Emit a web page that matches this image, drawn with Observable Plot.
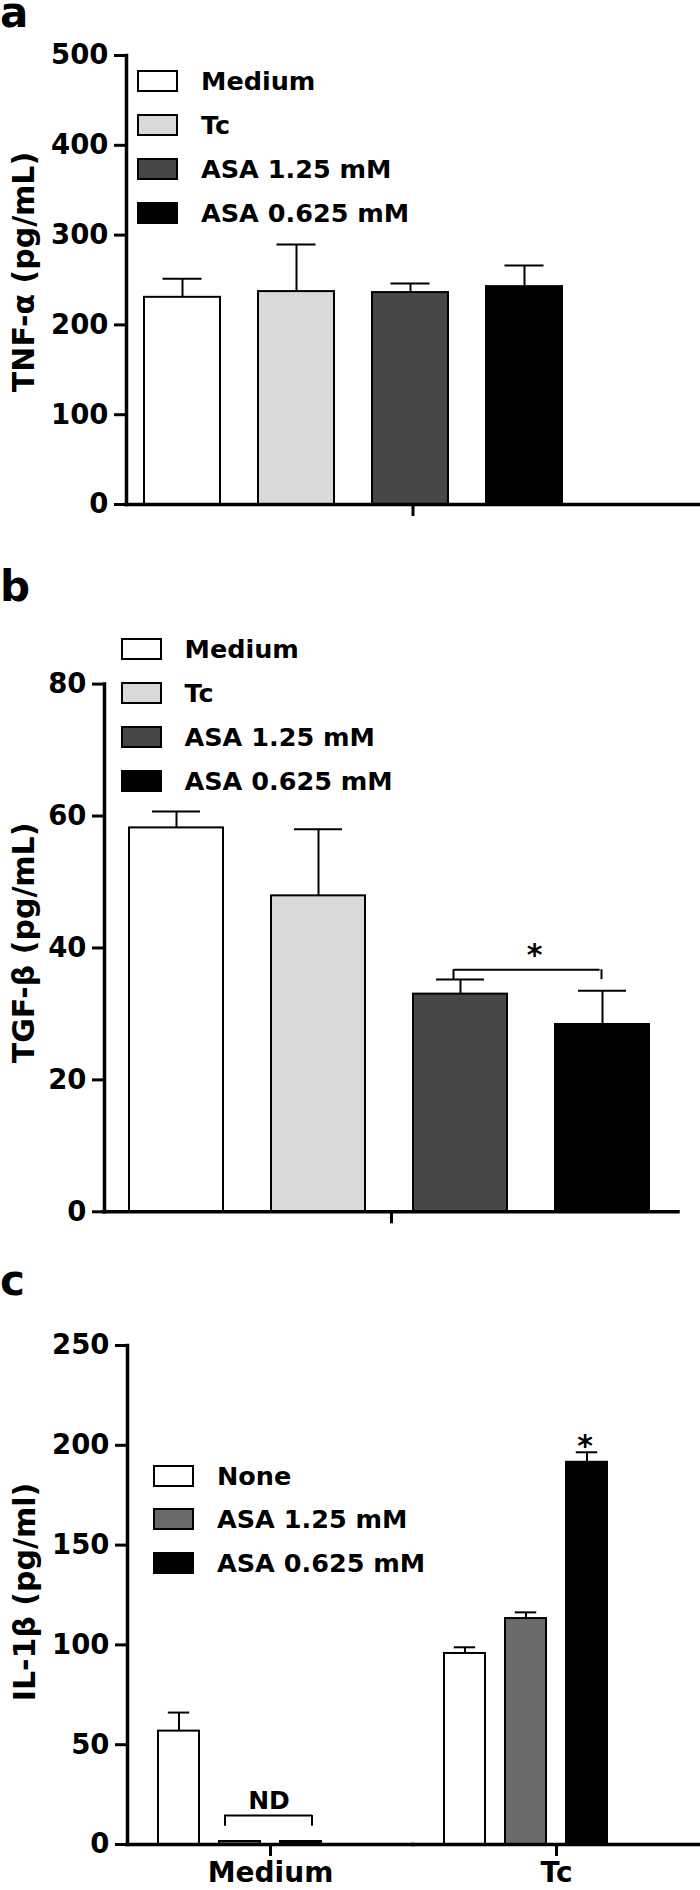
<!DOCTYPE html>
<html>
<head>
<meta charset="utf-8">
<script src="https://cdn.jsdelivr.net/npm/d3@7"></script>
<script src="https://cdn.jsdelivr.net/npm/@observablehq/plot@0.6"></script>
<style>
html, body { margin: 0; padding: 0; background: #fff; }
#root { position: relative; width: 700px; height: 1890px; overflow: hidden;
  font-family: "DejaVu Sans", sans-serif; font-weight: bold; color: #000; }
.panel { position: absolute; left: 0; }
.panel svg { overflow: visible; }
.letter { position: absolute; left: 0; font-size: 42px; line-height: 24px; }
.item { position: absolute; display: flex; align-items: center; white-space: nowrap;
  font-size: 25.5px; line-height: 22px; }
.sw { box-sizing: border-box; width: 41px; height: 22px; border: 2px solid #000; }
</style>
</head>
<body>
<div id="root"></div>
<script>
// ---------- data ----------
const seriesAB = ["Medium", "Tc", "ASA 1.25 mM", "ASA 0.625 mM"];
const colorsAB = ["#ffffff", "#d9d9d9", "#474747", "#000000"];

const tnfMean = [230.7, 237.1, 236.0, 242.6];
const tnfErr  = [20.6, 52.3, 10.0, 23.5];
const tnfTicks = [0, 100, 200, 300, 400, 500];
const tnfTitle = "TNF-α (pg/mL)";

const tgfMean = [58.2, 47.9, 33.0, 28.4];
const tgfErr  = [2.5, 10.1, 2.2, 5.1];
const tgfTicks = [0, 20, 40, 60, 80];
const tgfTitle = "TGF-β (pg/mL)";
const tgfSig = [{group: "", from: "ASA 1.25 mM", to: "ASA 0.625 mM", bracket: 36.7, leg: 35.2, textY: 37.4, text: "*"}];

const groupsC = ["Medium", "Tc"];
const seriesC = ["None", "ASA 1.25 mM", "ASA 0.625 mM"];
const colorsC = ["#ffffff", "#6b6b6b", "#000000"];
const il1bMedium    = [56.8, 1.5, 1.5];
const il1bMediumErr = [9.3, 0, 0];
const il1bTc        = [95.7, 113.2, 191.5];
const il1bTcErr     = [3.1, 3.1, 5.0];
const il1bTicks = [0, 50, 100, 150, 200, 250];
const il1bTitle = "IL-1β (pg/ml)";
const il1bND   = [{group: "Medium", from: "ASA 1.25 mM", to: "ASA 0.625 mM", bracket: 14.5, leg: 9.1, textY: 17.9, text: "ND"}];
const il1bStar = [{group: "Tc", series: "ASA 0.625 mM", textY: 194.6, text: "*"}];

// ---------- tables ----------
const rowsA = seriesAB.map((s, i) => ({group: "", series: s, value: tnfMean[i], err: tnfErr[i]}));
const rowsB = seriesAB.map((s, i) => ({group: "", series: s, value: tgfMean[i], err: tgfErr[i]}));
const rowsC = [
  ...seriesC.map((s, i) => ({group: groupsC[0], series: s, value: il1bMedium[i], err: il1bMediumErr[i]})),
  ...seriesC.map((s, i) => ({group: groupsC[1], series: s, value: il1bTc[i], err: il1bTcErr[i]}))
];

const root = document.getElementById("root");

function panel(o) {
  const errRows = o.rows.filter(d => d.err > 0);
  return Plot.plot({
    width: 700, height: o.height,
    marginTop: o.mt, marginBottom: o.mb, marginLeft: o.ml, marginRight: o.mr,
    style: {fontFamily: '"DejaVu Sans", sans-serif', fontWeight: "bold", color: "#000", background: "none", overflow: "visible"},
    fx: {domain: o.groups, padding: 0},
    x: {domain: o.series, paddingInner: o.pi, paddingOuter: o.po, align: o.align, axis: null},
    y: {domain: [o.ticks[0], o.ticks[o.ticks.length - 1]]},
    color: {domain: o.series, range: o.colors},
    marks: [
      Plot.barY(o.rows, {fx: "group", x: "series", y: "value", fill: "series", stroke: "#000", strokeWidth: 2}),
      Plot.ruleX(errRows, {fx: "group", x: "series", y1: "value", y2: d => d.value + d.err, stroke: "#000", strokeWidth: 2}),
      Plot.tickY(errRows, {fx: "group", x: "series", y: d => d.value + d.err, stroke: "#000", strokeWidth: 2, insetLeft: o.cap, insetRight: o.cap}),
      ...(o.extra || []),
      Plot.ruleY([0], {stroke: "#000", strokeWidth: 3.5, strokeLinecap: "square"}),
      Plot.frame({anchor: "left", facetAnchor: "left", stroke: "#000", strokeWidth: 3.5, strokeLinecap: "square"}),
      Plot.axisY({ticks: o.ticks, tickSize: 12, tickPadding: 6, fontSize: 27.5, strokeWidth: 3, label: null}),
      Plot.text([o.title], {text: d => d, frameAnchor: "left", facetAnchor: "left", rotate: -90,
        lineAnchor: "middle", textAnchor: "middle", fontSize: 30, dx: 24 - o.ml, dy: o.titleDy}),
      Plot.axisFx({anchor: "bottom", tickSize: 12, tickPadding: 6, fontSize: 28, strokeWidth: 3, label: null})
    ]
  });
}

function place(node, top) {
  const d = document.createElement("div");
  d.className = "panel";
  d.style.top = top + "px";
  d.appendChild(node);
  root.appendChild(d);
}

function legend(left, top, step, series, colors) {
  series.forEach((s, i) => {
    const item = d3.select(root).append("div").attr("class", "item")
      .style("left", left + "px").style("top", (top + i * step) + "px");
    item.append("div").attr("class", "sw").style("background", colors[i]);
    item.append("span").style("margin-left", "23px").text(s);
  });
}

function letter(t, top) {
  d3.select(root).append("div").attr("class", "letter").style("top", top + "px").text(t);
}

// ---------- panel a ----------
place(panel({
  height: 560, mt: 55, mb: 56, ml: 126, mr: 1,
  rows: rowsA, groups: [""], series: seriesAB, colors: colorsAB, ticks: tnfTicks, title: tnfTitle, titleDy: -8,
  pi: 0.333, po: 0.665, align: 0.118, cap: 18.5
}), 0);
legend(137, 70, 44, seriesAB, colorsAB);
letter("a", 1);

// ---------- panel b ----------
place(panel({
  height: 680, mt: 123.6, mb: 28.7, ml: 104, mr: 21.4,
  rows: rowsB, groups: [""], series: seriesAB, colors: colorsAB, ticks: tgfTicks, title: tgfTitle, titleDy: -5,
  pi: 0.336, po: 0.177, align: 0.474, cap: 23,
  extra: [
    Plot.ruleY(tgfSig, {fx: "group", x1: "from", x2: "to", y: "bracket", stroke: "#000", strokeWidth: 2, insetLeft: 40.5, insetRight: 49.4}),
    Plot.ruleX(tgfSig, {fx: "group", x: "from", y1: "leg", y2: "bracket", stroke: "#000", strokeWidth: 2, dx: -7}),
    Plot.ruleX(tgfSig, {fx: "group", x: "to", y1: "leg", y2: "bracket", stroke: "#000", strokeWidth: 2, dx: -1}),
    Plot.text(tgfSig, {fx: "group", x: "from", y: "textY", text: "text", fontSize: 30, lineAnchor: "bottom", dx: 74})
  ]
}), 560);
legend(120.5, 638, 44, seriesAB, colorsAB);
letter("b", 574.5);

// ---------- panel c ----------
place(panel({
  height: 650, mt: 105, mb: 46, ml: 126, mr: 1,
  rows: rowsC, groups: groupsC, series: seriesC, colors: colorsC, ticks: il1bTicks, title: il1bTitle, titleDy: -3,
  pi: 0.328, po: 0.99, align: 0.248, cap: 9.8,
  extra: [
    Plot.ruleY(il1bND, {fx: "group", x1: "from", x2: "to", y: "bracket", stroke: "#000", strokeWidth: 2, insetLeft: 5, insetRight: 9}),
    Plot.ruleX(il1bND, {fx: "group", x: "from", y1: "leg", y2: "bracket", stroke: "#000", strokeWidth: 2, dx: -15}),
    Plot.ruleX(il1bND, {fx: "group", x: "to", y1: "leg", y2: "bracket", stroke: "#000", strokeWidth: 2, dx: 11}),
    Plot.text(il1bND, {fx: "group", x: "from", y: "textY", text: "text", fontSize: 25, lineAnchor: "bottom", dx: 29}),
    Plot.text(il1bStar, {fx: "group", x: "series", y: "textY", text: "text", fontSize: 30, lineAnchor: "bottom", dx: -2})
  ]
}), 1240);
legend(153, 1464.7, 43.5, seriesC, colorsC);
letter("c", 1268.5);
</script>
</body>
</html>
